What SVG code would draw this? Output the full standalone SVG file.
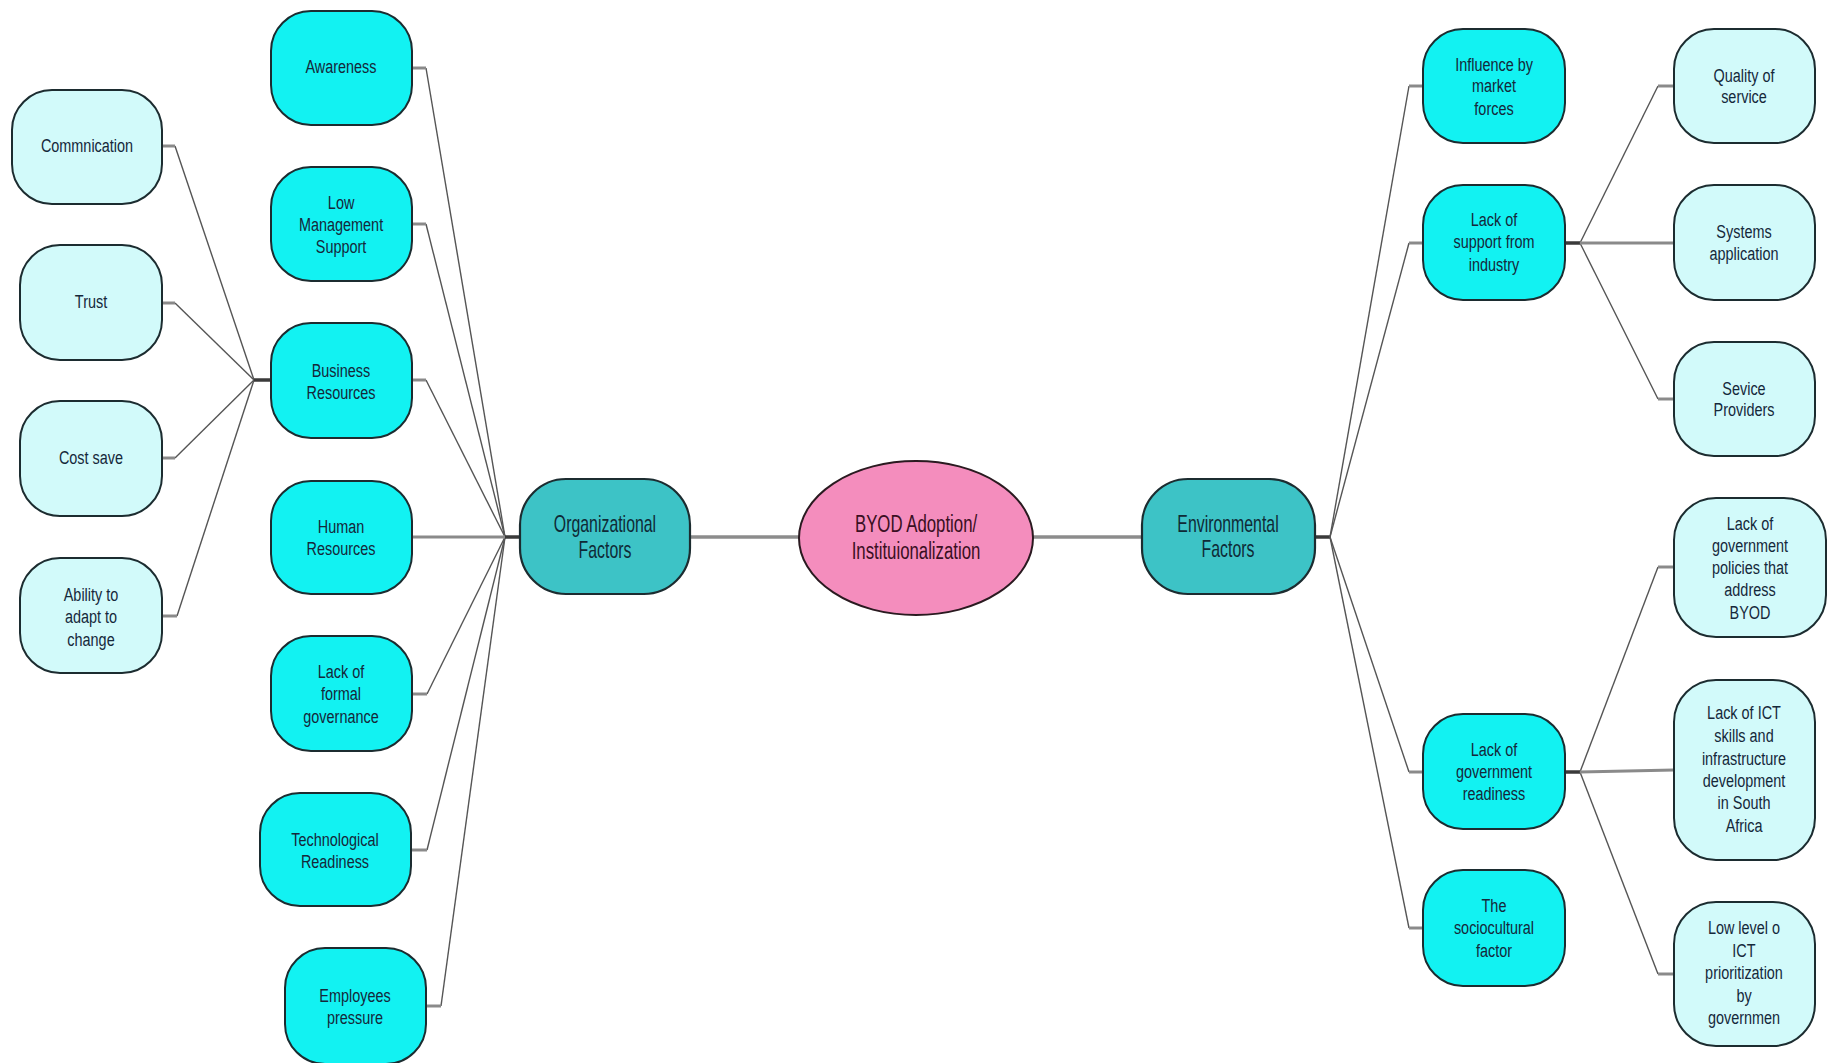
<svg xmlns="http://www.w3.org/2000/svg" width="1829" height="1063" viewBox="0 0 1829 1063">
<style>
.bg{fill:#ffffff}
.c{fill:#12F2F2;stroke:#1c2c30;stroke-width:2}
.l{fill:#D2FAFA;stroke:#1c2c30;stroke-width:2}
.f{fill:#3DC3C6;stroke:#1c2c30;stroke-width:2.2}
.e{fill:#F48DBD;stroke:#2a1a20;stroke-width:2}
.t{font-family:"Liberation Sans",Arial,sans-serif;font-size:19px;fill:#15283a;text-anchor:middle;transform-box:fill-box;transform-origin:center;transform:scaleX(0.76)}
.tf{font-family:"Liberation Sans",Arial,sans-serif;font-size:23px;fill:#0f2a36;text-anchor:middle;transform-box:fill-box;transform-origin:center;transform:scaleX(0.69)}
.te{font-family:"Liberation Sans",Arial,sans-serif;font-size:23px;fill:#3a0f22;text-anchor:middle;transform-box:fill-box;transform-origin:center;transform:scaleX(0.73)}
.w{fill:none;stroke:#555555;stroke-width:1.4}
.s{fill:none;stroke:#8a8a8a;stroke-width:3}
.h{fill:none;stroke:#3a3a3a;stroke-width:3.5}
.m{fill:none;stroke:#8c8c8c;stroke-width:3.5}
</style>
<rect class="bg" x="0" y="0" width="1829" height="1063"/>
<g id="connectors">
  <polyline class="w" points="175,146 254,380"/>
  <polyline class="w" points="175,303 254,380"/>
  <polyline class="w" points="175,458 254,380"/>
  <polyline class="w" points="177,616 254,380"/>
  <line class="s" x1="162" y1="146" x2="175" y2="146"/>
  <line class="s" x1="162" y1="303" x2="175" y2="303"/>
  <line class="s" x1="162" y1="458" x2="175" y2="458"/>
  <line class="s" x1="162" y1="616" x2="177" y2="616"/>
  <line class="h" x1="254" y1="380" x2="271" y2="380"/>
  <polyline class="w" points="426,68 505,537"/>
  <polyline class="w" points="426,224 505,537"/>
  <polyline class="w" points="426,380 505,537"/>
  <polyline class="w" points="427,694 505,537"/>
  <polyline class="w" points="427,850 505,537"/>
  <polyline class="w" points="441,1006 505,537"/>
  <line class="s" x1="412" y1="68" x2="426" y2="68"/>
  <line class="s" x1="412" y1="224" x2="426" y2="224"/>
  <line class="s" x1="412" y1="380" x2="426" y2="380"/>
  <line class="s" x1="412" y1="537" x2="505" y2="537"/>
  <line class="s" x1="412" y1="694" x2="427" y2="694"/>
  <line class="s" x1="411" y1="850" x2="427" y2="850"/>
  <line class="s" x1="426" y1="1006" x2="441" y2="1006"/>
  <line class="h" x1="505" y1="537" x2="520" y2="537"/>
  <line class="m" x1="690" y1="537" x2="799" y2="537"/>
  <line class="m" x1="1033" y1="537" x2="1142" y2="537"/>
  <line class="h" x1="1315" y1="537" x2="1330" y2="537"/>
  <polyline class="w" points="1330,537 1409,86"/>
  <polyline class="w" points="1330,537 1409,243"/>
  <polyline class="w" points="1330,537 1409,772"/>
  <polyline class="w" points="1330,537 1409,928"/>
  <line class="s" x1="1409" y1="86" x2="1423" y2="86"/>
  <line class="s" x1="1409" y1="243" x2="1423" y2="243"/>
  <line class="s" x1="1409" y1="772" x2="1423" y2="772"/>
  <line class="s" x1="1409" y1="928" x2="1423" y2="928"/>
  <line class="h" x1="1565" y1="243" x2="1580" y2="243"/>
  <polyline class="w" points="1580,243 1658,86"/>
  <polyline class="w" points="1580,243 1658,399"/>
  <line class="s" x1="1658" y1="86" x2="1674" y2="86"/>
  <line class="s" x1="1580" y1="243" x2="1674" y2="243"/>
  <line class="s" x1="1658" y1="399" x2="1674" y2="399"/>
  <line class="h" x1="1565" y1="772" x2="1580" y2="772"/>
  <polyline class="w" points="1580,772 1658,567"/>
  <polyline class="w" points="1580,772 1658,974"/>
  <line class="s" x1="1658" y1="567" x2="1674" y2="567"/>
  <line class="s" x1="1580" y1="772" x2="1674" y2="770"/>
  <line class="s" x1="1658" y1="974" x2="1674" y2="974"/>
</g>

<g id="commnication"><rect class="l" x="12" y="90" width="150" height="114" rx="40"/><text class="t" x="87" y="152">Commnication</text></g>
<g id="trust"><rect class="l" x="20" y="245" width="142" height="115" rx="40"/><text class="t" x="91" y="308">Trust</text></g>
<g id="cost-save"><rect class="l" x="20" y="401" width="142" height="115" rx="40"/><text class="t" x="91" y="464">Cost save</text></g>
<g id="ability"><rect class="l" x="20" y="558" width="142" height="115" rx="40"/><text class="t" x="91" y="601">Ability to</text><text class="t" x="91" y="623">adapt to</text><text class="t" x="91" y="646">change</text></g>

<g id="awareness"><rect class="c" x="271" y="11" width="141" height="114" rx="40"/><text class="t" x="341" y="73">Awareness</text></g>
<g id="low-management"><rect class="c" x="271" y="167" width="141" height="114" rx="40"/><text class="t" x="341" y="209">Low</text><text class="t" x="341" y="231">Management</text><text class="t" x="341" y="253">Support</text></g>
<g id="business-resources"><rect class="c" x="271" y="323" width="141" height="115" rx="40"/><text class="t" x="341" y="377">Business</text><text class="t" x="341" y="399">Resources</text></g>
<g id="human-resources"><rect class="c" x="271" y="481" width="141" height="113" rx="40"/><text class="t" x="341" y="533">Human</text><text class="t" x="341" y="555">Resources</text></g>
<g id="formal-governance"><rect class="c" x="271" y="636" width="141" height="115" rx="40"/><text class="t" x="341" y="678">Lack of</text><text class="t" x="341" y="700">formal</text><text class="t" x="341" y="723">governance</text></g>
<g id="technological-readiness"><rect class="c" x="260" y="793" width="151" height="113" rx="40"/><text class="t" x="335" y="846">Technological</text><text class="t" x="335" y="868">Readiness</text></g>
<g id="employees-pressure"><rect class="c" x="285" y="948" width="141" height="116" rx="40"/><text class="t" x="355" y="1002">Employees</text><text class="t" x="355" y="1024">pressure</text></g>

<g id="organizational-factors"><rect class="f" x="520" y="479" width="170" height="115" rx="46"/><text class="tf" x="605" y="532">Organizational</text><text class="tf" x="605" y="558">Factors</text></g>
<g id="byod"><ellipse class="e" cx="916" cy="538" rx="117" ry="77"/><text class="te" x="916" y="532">BYOD Adoption/</text><text class="te" x="916" y="559">Instituionalization</text></g>
<g id="environmental-factors"><rect class="f" x="1142" y="479" width="173" height="115" rx="46"/><text class="tf" x="1228" y="532">Environmental</text><text class="tf" x="1228" y="557">Factors</text></g>

<g id="influence"><rect class="c" x="1423" y="29" width="142" height="114" rx="40"/><text class="t" x="1494" y="71">Influence by</text><text class="t" x="1494" y="92">market</text><text class="t" x="1494" y="115">forces</text></g>
<g id="support-industry"><rect class="c" x="1423" y="185" width="142" height="115" rx="40"/><text class="t" x="1494" y="226">Lack of</text><text class="t" x="1494" y="248">support from</text><text class="t" x="1494" y="271">industry</text></g>
<g id="government-readiness"><rect class="c" x="1423" y="714" width="142" height="115" rx="40"/><text class="t" x="1494" y="756">Lack of</text><text class="t" x="1494" y="778">government</text><text class="t" x="1494" y="800">readiness</text></g>
<g id="sociocultural"><rect class="c" x="1423" y="870" width="142" height="116" rx="40"/><text class="t" x="1494" y="912">The</text><text class="t" x="1494" y="934">sociocultural</text><text class="t" x="1494" y="957">factor</text></g>

<g id="quality"><rect class="l" x="1674" y="29" width="141" height="114" rx="40"/><text class="t" x="1744" y="82">Quality of</text><text class="t" x="1744" y="103">service</text></g>
<g id="systems"><rect class="l" x="1674" y="185" width="141" height="115" rx="40"/><text class="t" x="1744" y="238">Systems</text><text class="t" x="1744" y="260">application</text></g>
<g id="service-providers"><rect class="l" x="1674" y="342" width="141" height="114" rx="40"/><text class="t" x="1744" y="395">Sevice</text><text class="t" x="1744" y="416">Providers</text></g>
<g id="government-policies"><rect class="l" x="1674" y="498" width="152" height="139" rx="42"/><text class="t" x="1750" y="530">Lack of</text><text class="t" x="1750" y="552">government</text><text class="t" x="1750" y="574">policies that</text><text class="t" x="1750" y="596">address</text><text class="t" x="1750" y="619">BYOD</text></g>
<g id="ict-skills"><rect class="l" x="1674" y="680" width="141" height="180" rx="42"/><text class="t" x="1744" y="719">Lack of ICT</text><text class="t" x="1744" y="742">skills and</text><text class="t" x="1744" y="765">infrastructure</text><text class="t" x="1744" y="787">development</text><text class="t" x="1744" y="809">in South</text><text class="t" x="1744" y="832">Africa</text></g>
<g id="ict-prioritization"><rect class="l" x="1674" y="902" width="141" height="144" rx="42"/><text class="t" x="1744" y="934">Low level o</text><text class="t" x="1744" y="957">ICT</text><text class="t" x="1744" y="979">prioritization</text><text class="t" x="1744" y="1002">by</text><text class="t" x="1744" y="1024">governmen</text></g>
</svg>
